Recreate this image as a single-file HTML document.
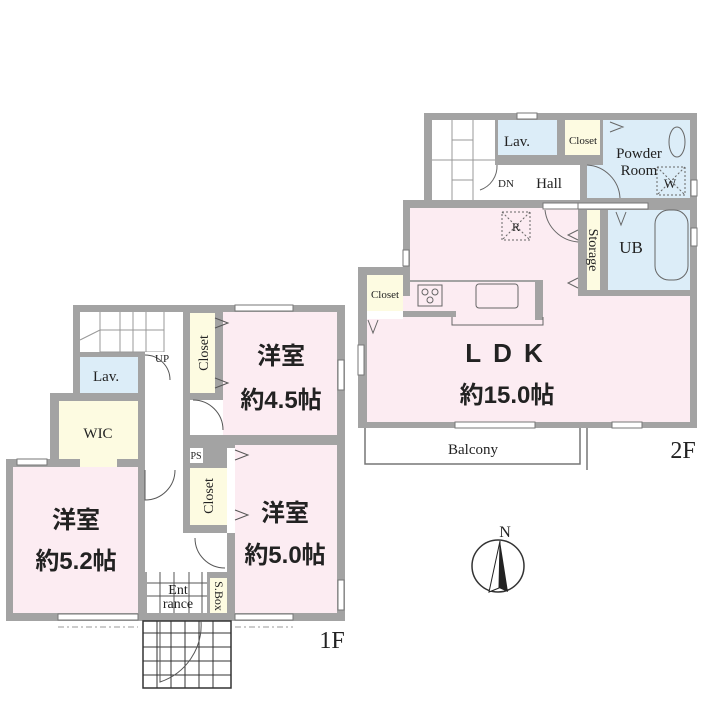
<!DOCTYPE html>
<html><head><meta charset="utf-8"><style>
html,body{margin:0;padding:0;background:#fff}
svg{display:block}
.s{font-family:"Liberation Serif",serif;fill:#222}
.j{font-family:"Liberation Sans","Noto Sans CJK JP",sans-serif;font-weight:bold;fill:#222}
</style></head><body>
<svg width="709" height="709" viewBox="0 0 709 709" xmlns="http://www.w3.org/2000/svg">
<!-- ===== 1F ===== -->
<polygon points="73,305 345,305 345,621 6,621 6,459 50,459 50,393 73,393" fill="#a3a3a3"/>
<rect x="80" y="312" width="103" height="40" fill="#fff"/>
<g stroke="#999" stroke-width="1" fill="none">
<line x1="100" y1="312" x2="100" y2="352"/><line x1="120" y1="312" x2="120" y2="352"/><line x1="133" y1="312" x2="133" y2="352"/><line x1="146" y1="312" x2="146" y2="352"/><line x1="164" y1="312" x2="164" y2="352"/>
<rect x="100" y="330" width="64" height="22"/><line x1="80" y1="340" x2="100" y2="330"/>
</g>
<rect x="145" y="352" width="38" height="220" fill="#fff"/>
<rect x="145" y="533" width="82" height="39" fill="#fff"/>
<rect x="80" y="357" width="58" height="36" fill="#dcedf8"/>
<rect x="59" y="401" width="79" height="58" fill="#fdfbe1"/>
<rect x="80" y="459" width="37" height="8" fill="#fdfbe1"/>
<rect x="13" y="467" width="125" height="146" fill="#fcecf2"/>
<rect x="223" y="312" width="114" height="123" fill="#fcecf2"/>
<rect x="190" y="313" width="25" height="80" fill="#fdfbe1"/>
<rect x="190" y="400" width="33" height="35" fill="#fff"/>
<rect x="235" y="445" width="102" height="168" fill="#fcecf2"/>
<rect x="190" y="448" width="13" height="15" fill="#fff"/>
<rect x="190" y="468" width="37" height="57" fill="#fdfbe1"/>
<rect x="227" y="448" width="8" height="85" fill="#fff"/>
<rect x="147" y="572" width="60" height="41" fill="#fff"/>
<g stroke="#555" stroke-width="1">
<line x1="147" y1="583" x2="207" y2="583"/><line x1="147" y1="596" x2="207" y2="596"/>
<line x1="160" y1="572" x2="160" y2="613"/><line x1="174" y1="572" x2="174" y2="613"/><line x1="189" y1="572" x2="189" y2="613"/><line x1="202" y1="572" x2="202" y2="613"/>
</g>
<rect x="210" y="578" width="17" height="35" fill="#fdfbe1"/>
<rect x="143" y="621" width="88" height="67" fill="#fff" stroke="#333" stroke-width="1.5"/>
<g stroke="#333" stroke-width="1">
<line x1="143" y1="633" x2="231" y2="633"/><line x1="143" y1="647" x2="231" y2="647"/><line x1="143" y1="661" x2="231" y2="661"/><line x1="143" y1="675" x2="231" y2="675"/>
<line x1="157" y1="621" x2="157" y2="688"/><line x1="171" y1="621" x2="171" y2="688"/><line x1="185" y1="621" x2="185" y2="688"/><line x1="199" y1="621" x2="199" y2="688"/><line x1="213" y1="621" x2="213" y2="688"/>
</g>
<g fill="#fff" stroke="#777" stroke-width="1">
<rect x="235" y="305" width="58" height="6"/><rect x="338" y="360" width="6" height="30"/>
<rect x="338" y="580" width="6" height="30"/><rect x="235" y="614" width="58" height="6"/>
<rect x="58" y="614" width="80" height="6"/><rect x="17" y="459" width="30" height="6"/>
</g>
<g stroke="#555" fill="none" stroke-width="1">
<path d="M160 621 L160 682 A60 60 0 0 0 201 621"/>
<path d="M145 470 L145 500 A30 30 0 0 0 175 470"/>
<path d="M193 400 A30 30 0 0 1 223 430"/>
<path d="M195 538 A30 30 0 0 0 225 568"/>
<path d="M145 355 A25 25 0 0 1 170 380"/>
<path d="M215 318 L228 323 L215 328 M215 378 L228 383 L215 388 M235 450 L248 455 L235 460 M235 510 L248 515 L235 520"/>
</g>
<line x1="58" y1="627" x2="138" y2="627" stroke="#999" stroke-dasharray="6,3,2,3"/>
<line x1="235" y1="627" x2="293" y2="627" stroke="#999" stroke-dasharray="6,3,2,3"/>
<text class="s" x="93" y="381" font-size="15">Lav.</text>
<text class="s" x="155" y="362" font-size="11">UP</text>
<text class="s" x="98" y="438" font-size="15" text-anchor="middle">WIC</text>
<text class="s" x="208" y="353" font-size="14" text-anchor="middle" transform="rotate(-90 208 353)">Closet</text>
<text class="s" x="213" y="496" font-size="14" text-anchor="middle" transform="rotate(-90 213 496)">Closet</text>
<text class="s" x="196" y="459" font-size="10" text-anchor="middle">PS</text>
<text class="s" x="178" y="594" font-size="14" text-anchor="middle">Ent</text>
<text class="s" x="178" y="608" font-size="14" text-anchor="middle">rance</text>
<text class="s" x="215" y="596" font-size="12" text-anchor="middle" transform="rotate(90 215 596)">S.Box</text>
<text class="j" x="281" y="364" font-size="24" text-anchor="middle">洋室</text>
<text class="j" x="281" y="408" font-size="24" text-anchor="middle">約4.5帖</text>
<text class="j" x="285" y="521" font-size="24" text-anchor="middle">洋室</text>
<text class="j" x="285" y="563" font-size="24" text-anchor="middle">約5.0帖</text>
<text class="j" x="76" y="528" font-size="24" text-anchor="middle">洋室</text>
<text class="j" x="76" y="569" font-size="24" text-anchor="middle">約5.2帖</text>
<text class="s" x="332" y="648" font-size="24" text-anchor="middle">1F</text>

<!-- ===== 2F ===== -->
<polygon points="424,113 697,113 697,428 358,428 358,267 403,267 403,200 424,200" fill="#a3a3a3"/>
<rect x="432" y="120" width="63" height="80" fill="#fff"/>
<g stroke="#999" stroke-width="1" fill="none">
<line x1="452" y1="120" x2="452" y2="200"/><line x1="473" y1="120" x2="473" y2="200"/><rect x="452" y="140" width="21" height="40"/><line x1="432" y1="160" x2="495" y2="160"/>
</g>
<rect x="495" y="165" width="85" height="35" fill="#fff"/>
<rect x="498" y="120" width="59" height="35" fill="#dcedf8"/>
<rect x="565" y="120" width="35" height="35" fill="#fdfbe1"/>
<rect x="603" y="120" width="87" height="78" fill="#dcedf8"/>
<rect x="587" y="165" width="20" height="33" fill="#dcedf8"/>
<rect x="410" y="208" width="168" height="95" fill="#fcecf2"/>
<rect x="367" y="296" width="323" height="126" fill="#fcecf2"/>
<rect x="410" y="282" width="133" height="29" fill="#fcecf2"/>
<rect x="410" y="280" width="125" height="2" fill="#a3a3a3"/>
<rect x="535" y="280" width="8" height="40" fill="#a3a3a3"/>
<rect x="403" y="311" width="53" height="6" fill="#a3a3a3"/>
<rect x="587" y="210" width="13" height="80" fill="#fdfbe1"/>
<rect x="608" y="210" width="82" height="80" fill="#dcedf8"/>
<rect x="367" y="275" width="36" height="36" fill="#fdfbe1"/>
<rect x="367" y="311" width="36" height="8" fill="#fff"/>
<g stroke="#666" fill="none" stroke-width="1">
<rect x="655" y="210" width="33" height="70" rx="14"/>
<ellipse cx="677" cy="142" rx="8" ry="15"/>
<rect x="418" y="285" width="24" height="21"/>
<circle cx="425" cy="292" r="3"/><circle cx="435" cy="292" r="3"/><circle cx="430" cy="300" r="3"/>
<rect x="476" y="284" width="42" height="24" rx="3"/>
<path d="M452 317 L452 325 L543 325 L543 317"/>
<path d="M587 165 A35 35 0 0 1 620 198"/>
<path d="M497 165 A25 25 0 0 1 480 190"/>
<path d="M545 210 A36 36 0 0 0 578 242"/>
<path d="M610 122 L623 127 L610 132 M616 212 L621 225 L626 212 M368 320 L373 333 L378 320 M578 230 L568 235 L578 240 M578 278 L568 283 L578 288"/>
</g>
<g stroke="#666" fill="none" stroke-dasharray="2,2">
<rect x="502" y="212" width="28" height="28"/><line x1="502" y1="212" x2="530" y2="240"/><line x1="530" y1="212" x2="502" y2="240"/>
<rect x="657" y="167" width="28" height="28"/><line x1="657" y1="167" x2="685" y2="195"/><line x1="685" y1="167" x2="657" y2="195"/>
</g>
<g fill="#fff" stroke="#777" stroke-width="1">
<rect x="517" y="113" width="20" height="6"/><rect x="691" y="180" width="6" height="16"/><rect x="691" y="228" width="6" height="18"/>
<rect x="403" y="250" width="6" height="16"/><rect x="358" y="345" width="6" height="30"/>
<rect x="455" y="422" width="80" height="6"/><rect x="612" y="422" width="30" height="6"/>
<rect x="578" y="203" width="70" height="6"/><rect x="543" y="203" width="35" height="6"/>
</g>
<path d="M365 428 L365 464 L580 464 L580 428 M587 428 L587 470" stroke="#777" stroke-width="1.5" fill="none"/>
<text class="s" x="517" y="146" font-size="15" text-anchor="middle">Lav.</text>
<text class="s" x="583" y="144" font-size="11" text-anchor="middle">Closet</text>
<text class="s" x="639" y="158" font-size="15" text-anchor="middle">Powder</text>
<text class="s" x="639" y="175" font-size="15" text-anchor="middle">Room</text>
<text class="s" x="670" y="188" font-size="13" text-anchor="middle">W</text>
<text class="s" x="549" y="188" font-size="15" text-anchor="middle">Hall</text>
<text class="s" x="506" y="187" font-size="11" text-anchor="middle">DN</text>
<text class="s" x="516" y="231" font-size="12" text-anchor="middle">R</text>
<text class="s" x="589" y="250" font-size="14" text-anchor="middle" transform="rotate(90 589 250)">Storage</text>
<text class="s" x="631" y="253" font-size="17" text-anchor="middle">UB</text>
<text class="s" x="385" y="298" font-size="11" text-anchor="middle">Closet</text>
<text class="j" x="510" y="362" font-size="26" text-anchor="middle" letter-spacing="12">LDK</text>
<text class="j" x="507" y="403" font-size="24" text-anchor="middle">約15.0帖</text>
<text class="s" x="473" y="454" font-size="15" text-anchor="middle">Balcony</text>
<text class="s" x="683" y="458" font-size="24" text-anchor="middle">2F</text>
<circle cx="498" cy="566" r="26" fill="none" stroke="#333" stroke-width="1.5"/>
<polygon points="500,541 508,592 499,588" fill="#222"/>
<polygon points="500,541 489,592 499,588" fill="#fff" stroke="#222"/>
<text class="s" x="505" y="537" font-size="16" text-anchor="middle">N</text>
</svg>
</body></html>
